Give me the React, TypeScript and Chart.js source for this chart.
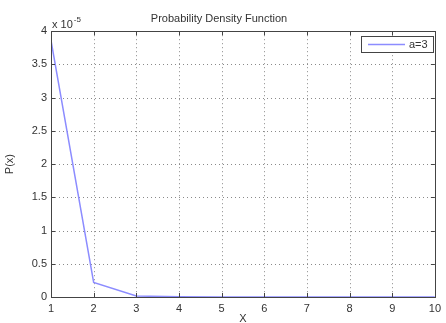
import React, { useEffect, useRef } from "react";
import { Chart, registerables } from "chart.js";

Chart.register(...registerables);

const xValues = [1, 2, 3, 4, 5, 6, 7, 8, 9, 10];
const pValues = [3.86e-5, 0.22e-5, 0.015e-5, 0.003e-5, 0.001e-5, 0.0005e-5, 0.0002e-5, 0.0001e-5, 0.00005e-5, 0.00003e-5];
const seriesLabel = "a=3";
const titleText = "Probability Density Function";
const xTitle = "X";
const yTitle = "P(x)";
const exponent = -5;

const FONT = "'Liberation Sans', Arial, sans-serif";
const AXIS = "#444444";

const decorPlugin = {
  id: "decor",
  beforeDatasetsDraw(chart: any) {
    const { ctx, chartArea: a, scales } = chart;
    const xs = scales.x, ys = scales.y;
    ctx.save();
    ctx.strokeStyle = "#8a8a8a";
    ctx.lineWidth = 1;
    ctx.setLineDash([1, 3]);
    xs.ticks.forEach((t: any) => {
      const px = Math.round(xs.getPixelForValue(t.value)) + 0.5;
      if (px <= a.left + 1 || px >= a.right - 1) return;
      ctx.beginPath(); ctx.moveTo(px, a.top); ctx.lineTo(px, a.bottom); ctx.stroke();
    });
    ys.ticks.forEach((t: any) => {
      const py = Math.round(ys.getPixelForValue(t.value)) + 0.5;
      if (py <= a.top + 1 || py >= a.bottom - 1) return;
      ctx.beginPath(); ctx.moveTo(a.left, py); ctx.lineTo(a.right, py); ctx.stroke();
    });
    ctx.restore();
  },
  afterDatasetsDraw(chart: any) {
    const { ctx, chartArea: a, scales } = chart;
    const xs = scales.x, ys = scales.y;
    ctx.save();
    ctx.strokeStyle = AXIS;
    ctx.lineWidth = 1;
    ctx.setLineDash([]);
    ctx.strokeRect(Math.round(a.left) + 0.5, Math.round(a.top) + 0.5, Math.round(a.right - a.left), Math.round(a.bottom - a.top));
    const tl = 4;
    xs.ticks.forEach((t: any) => {
      const px = Math.round(xs.getPixelForValue(t.value)) + 0.5;
      ctx.beginPath();
      ctx.moveTo(px, a.bottom); ctx.lineTo(px, a.bottom - tl);
      ctx.moveTo(px, a.top); ctx.lineTo(px, a.top + tl);
      ctx.stroke();
    });
    ys.ticks.forEach((t: any) => {
      const py = Math.round(ys.getPixelForValue(t.value)) + 0.5;
      ctx.beginPath();
      ctx.moveTo(a.left, py); ctx.lineTo(a.left + tl, py);
      ctx.moveTo(a.right, py); ctx.lineTo(a.right - tl, py);
      ctx.stroke();
    });
    ctx.fillStyle = "#333";
    ctx.font = `11px ${FONT}`;
    ctx.textBaseline = "alphabetic";
    ctx.textAlign = "left";
    const ex = a.left + 1, ey = a.top - 3;
    ctx.fillText("x 10", ex, ey);
    const w = ctx.measureText("x 10").width;
    ctx.font = `8px ${FONT}`;
    ctx.fillText(String(exponent), ex + w + 1, ey - 6);
    const lx = 361, ly = 36, lw = 72, lh = 16;
    ctx.fillStyle = "#fff";
    ctx.fillRect(lx, ly, lw, lh);
    ctx.strokeStyle = AXIS;
    ctx.strokeRect(lx + 0.5, ly + 0.5, lw, lh);
    ctx.strokeStyle = "#8c8cff";
    ctx.lineWidth = 1.5;
    ctx.beginPath(); ctx.moveTo(lx + 7, ly + 8.5); ctx.lineTo(lx + 44, ly + 8.5); ctx.stroke();
    ctx.fillStyle = "#333";
    ctx.font = `11px ${FONT}`;
    ctx.textBaseline = "middle";
    ctx.fillText(seriesLabel, lx + 48, ly + 9);
    ctx.restore();
  },
};

export default function App() {
  const ref = useRef<HTMLCanvasElement | null>(null);
  useEffect(() => {
    if (!ref.current) return;
    const chart = new Chart(ref.current, {
      type: "line",
      data: {
        datasets: [
          {
            label: seriesLabel,
            data: xValues.map((x, i) => ({ x, y: pValues[i] })),
            borderColor: "#8c8cff",
            borderWidth: 1.5,
            pointRadius: 0,
            tension: 0,
          },
        ],
      },
      options: {
        animation: false,
        responsive: false,
        layout: { padding: { left: 0, right: 8, top: 0, bottom: 0 } },
        plugins: {
          legend: { display: false },
          tooltip: { enabled: false },
          title: {
            display: true,
            text: titleText,
            color: "#333",
            font: { family: FONT, size: 11, weight: "normal" },
            padding: { top: 12, bottom: 6 },
          },
        },
        scales: {
          x: {
            type: "linear",
            min: 1,
            max: 10,
            ticks: { stepSize: 1, color: "#333", font: { family: FONT, size: 11 }, padding: 5, maxRotation: 0 },
            grid: { display: false, drawTicks: false },
            border: { display: false },
            title: { display: true, text: xTitle, color: "#333", font: { family: FONT, size: 11 }, padding: { top: 0, bottom: -3 } },
            afterFit: (s: any) => { s.height = 26; },
          },
          y: {
            type: "linear",
            min: 0,
            max: 4e-5,
            ticks: {
              stepSize: 0.5e-5,
              color: "#333",
              font: { family: FONT, size: 11 },
              padding: 4,
              callback: (v: any) => String(Math.round((Number(v) / Math.pow(10, exponent)) * 10) / 10),
            },
            grid: { display: false, drawTicks: false },
            border: { display: false },
            title: { display: true, text: yTitle, color: "#333", font: { family: FONT, size: 11 }, padding: { top: 3, bottom: 0 } },
            afterFit: (s: any) => { s.width = 51; },
          },
        },
      },
      plugins: [decorPlugin],
    } as any);
    return () => chart.destroy();
  }, []);
  return (
    <div style={{ position: "fixed", left: 0, top: 0, background: "#fff" }}>
      <canvas ref={ref} width={446} height={323} style={{ display: "block" }} />
    </div>
  );
}
